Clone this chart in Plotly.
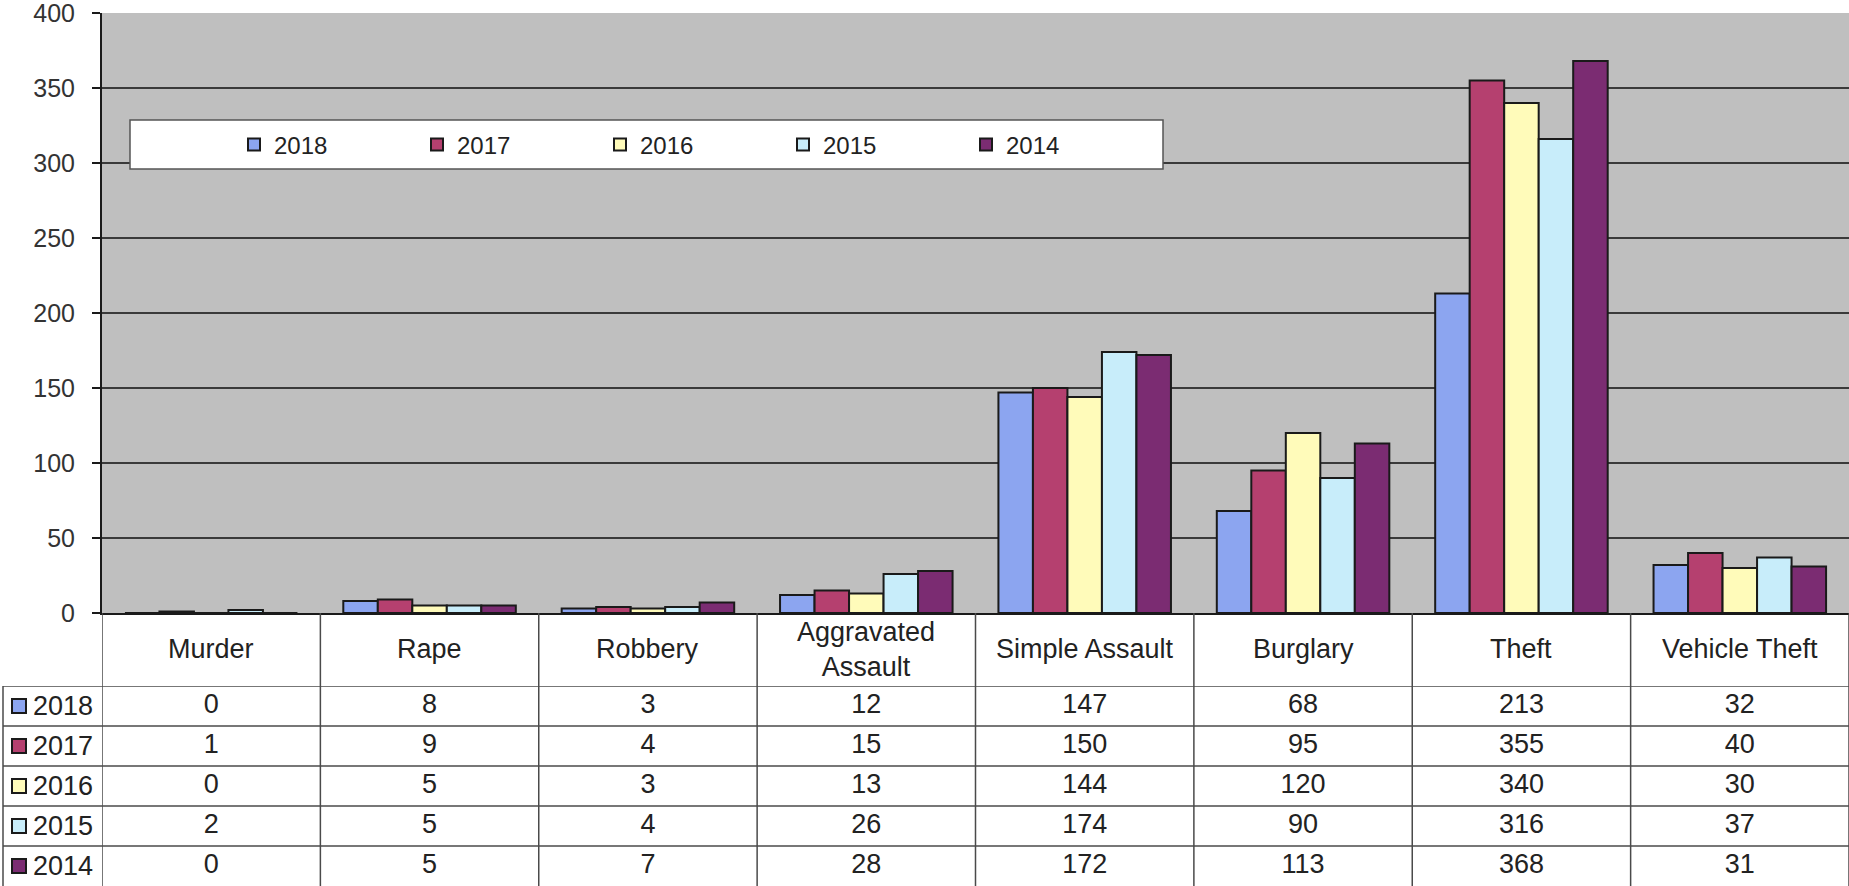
import plotly.graph_objects as go

W, H = 1849, 886

categories = ["Murder", "Rape", "Robbery", "Aggravated Assault",
              "Simple Assault", "Burglary", "Theft", "Vehicle Theft"]
header_labels = ["Murder", "Rape", "Robbery", "Aggravated<br>Assault",
                 "Simple Assault", "Burglary", "Theft", "Vehicle Theft"]
years = ["2018", "2017", "2016", "2015", "2014"]
v2018 = [0, 8, 3, 12, 147, 68, 213, 32]
v2017 = [1, 9, 4, 15, 150, 95, 355, 40]
v2016 = [0, 5, 3, 13, 144, 120, 340, 30]
v2015 = [2, 5, 4, 26, 174, 90, 316, 37]
v2014 = [0, 5, 7, 28, 172, 113, 368, 31]
series = [v2018, v2017, v2016, v2015, v2014]
colors = ["#8CA5F0", "#B5406F", "#FFFBBA", "#C8EDFA", "#7B2C72"]
y_ticks = [0, 50, 100, 150, 200, 250, 300, 350, 400]

FONT = "Liberation Sans, Arial, sans-serif"
TXT = "#222222"

def px_x(p):
    return p / W

def px_y(p):
    return (H - p) / H

plot_left = px_x(102)
plot_bottom = px_y(613)
plot_top = px_y(13)
table_top = px_y(686)

fig = go.Figure()

for yr, vals, col in zip(years, series, colors):
    fig.add_trace(go.Bar(
        x=categories, y=vals, name=yr,
        marker=dict(color=col, line=dict(color="#1a1a1a", width=2)),
        xaxis="x", yaxis="y", hoverinfo="x+y+name",
    ))

# table values
for yr, vals in zip(years, series):
    fig.add_trace(go.Scatter(
        x=categories, y=[yr] * len(categories), text=[str(v) for v in vals],
        mode="text", textposition="middle center",
        textfont=dict(family=FONT, size=27, color=TXT),
        xaxis="x", yaxis="y2", showlegend=False, hoverinfo="skip",
    ))

# legend keys in the table
fig.add_trace(go.Scatter(
    x=[16] * len(years), y=years, mode="markers",
    marker=dict(symbol="square", size=14, color=colors,
                line=dict(color="#1a1a1a", width=2)),
    xaxis="x2", yaxis="y2", showlegend=False, hoverinfo="skip",
))

shapes = []
# plot area background
shapes.append(dict(type="rect", xref="x domain", yref="y domain",
                   x0=0, x1=1, y0=0, y1=1, fillcolor="#BFBFBF",
                   line=dict(width=0), layer="below"))
# legend box
shapes.append(dict(type="rect", xref="paper", yref="paper",
                   x0=px_x(130), x1=px_x(1163), y0=px_y(169), y1=px_y(120),
                   fillcolor="white", line=dict(color="#555555", width=1.5),
                   layer="above"))
# table horizontal lines
for k in range(len(years)):
    shapes.append(dict(type="line", xref="paper", yref="y2",
                       x0=px_x(3), x1=1, y0=k + 0.5, y1=k + 0.5,
                       line=dict(color="#4a4a4a", width=1.5)))
# vertical column separators
for i in range(len(categories) + 1):
    shapes.append(dict(type="line", xref="x", yref="paper",
                       x0=i - 0.5, x1=i - 0.5, y0=0, y1=plot_bottom,
                       line=dict(color="#4a4a4a", width=1.5)))
# left border of table
shapes.append(dict(type="line", xref="paper", yref="paper",
                   x0=px_x(3), x1=px_x(3), y0=0, y1=table_top,
                   line=dict(color="#4a4a4a", width=1.5)))

annotations = []
for cat, lab in zip(categories, header_labels):
    annotations.append(dict(
        x=cat, y=(plot_bottom + table_top) / 2, xref="x", yref="paper",
        text=lab, showarrow=False, xanchor="center", yanchor="middle",
        font=dict(family=FONT, size=27, color=TXT), align="center"))

fig.update_layout(
    template="none",
    width=W, height=H, autosize=False,
    margin=dict(l=0, r=0, t=0, b=0, pad=0, autoexpand=False),
    paper_bgcolor="white", plot_bgcolor="white",
    font=dict(family=FONT, size=26, color=TXT),
    barmode="group", bargap=0.21, bargroupgap=0,
    showlegend=True,
    legend=dict(orientation="h", x=px_x(234), xanchor="left",
                y=px_y(145), yanchor="middle",
                bgcolor="rgba(0,0,0,0)", borderwidth=0,
                font=dict(family=FONT, size=24, color=TXT),
                entrywidth=138, entrywidthmode="pixels",
                traceorder="normal"),
    xaxis=dict(domain=[plot_left, 1], type="category",
               categoryorder="array", categoryarray=categories,
               range=[-0.5, len(categories) - 0.5],
               showticklabels=False, ticks="", showgrid=False,
               showline=True, linecolor="#1a1a1a", linewidth=2,
               zeroline=False, anchor="y", fixedrange=True,
               automargin=False),
    yaxis=dict(domain=[plot_bottom, plot_top], range=[0, 400],
               tickvals=y_ticks, ticks="outside", ticklen=8,
               tickcolor="#1a1a1a", tickwidth=1.5,
               showgrid=True, gridcolor="#3a3a3a", gridwidth=1.5,
               showline=True, linecolor="#1a1a1a", linewidth=2,
               zeroline=False, ticklabelstandoff=12,
               ticklabeloverflow="allow", automargin=False,
               tickfont=dict(family=FONT, size=25, color="#333333"),
               anchor="x", fixedrange=True),
    yaxis2=dict(domain=[0, table_top], type="category",
                categoryorder="array", categoryarray=years[::-1],
                range=[-0.5, len(years) - 0.5],
                showgrid=False, zeroline=False, showline=False, ticks="",
                ticklabelstandoff=8, automargin=False,
                ticklabeloverflow="allow",
                tickfont=dict(family=FONT, size=27, color=TXT),
                anchor="x", fixedrange=True),
    xaxis2=dict(domain=[px_x(3), plot_left], range=[0, 99],
                visible=False, anchor="y2", fixedrange=True,
                automargin=False),
    shapes=shapes, annotations=annotations,
)

fig.write_html("out.html",
               config={"displayModeBar": False},
               post_script="document.body.style.margin='0';"
                           "document.body.style.overflow='hidden';")
